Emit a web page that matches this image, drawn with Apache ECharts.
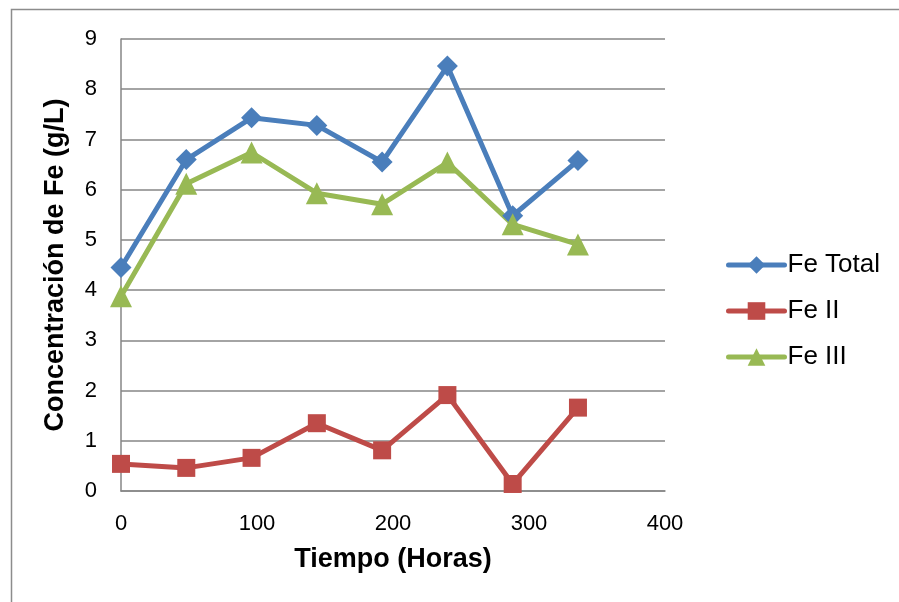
<!DOCTYPE html>
<html>
<head>
<meta charset="utf-8">
<script src="https://cdn.jsdelivr.net/npm/echarts@6/dist/echarts.min.js"></script>
<style>
  html, body { margin: 0; padding: 0; background: #fff; }
  #chart { width: 899px; height: 602px; }
</style>
</head>
<body>
<div id="chart"></div>
<script>
// Sampling times (hours)
const horas = [0, 48, 96, 144, 192, 240, 288, 336];
// Iron concentrations (g/L)
const feTotal = [4.45, 6.60, 7.43, 7.28, 6.55, 8.46, 5.48, 6.58];
const feII    = [0.54, 0.46, 0.66, 1.35, 0.81, 1.91, 0.14, 1.66];
const feIII   = [3.88, 6.12, 6.74, 5.93, 5.71, 6.54, 5.31, 4.91];
const seriesNames = ['Fe Total', 'Fe II', 'Fe III'];
const xTicks = [0, 100, 200, 300, 400];
const yTicks = [0, 1, 2, 3, 4, 5, 6, 7, 8, 9];

const font = 'Arial, "Liberation Sans", sans-serif';
const pair = (ys) => horas.map((h, i) => [h, ys[i]]);

function lineSeries(name, ys, color, symbol, size) {
  return {
    name: name,
    type: 'line',
    data: pair(ys),
    symbol: symbol,
    symbolSize: size,
    showAllSymbol: true,
    lineStyle: { color: color, width: 5 },
    itemStyle: { color: color },
    emphasis: { disabled: true },
    animation: false
  };
}

const chart = echarts.init(document.getElementById('chart'), null, { renderer: 'canvas' });
chart.setOption({
  backgroundColor: '#ffffff',
  animation: false,
  graphic: [{
    type: 'rect',
    shape: { x: 11.5, y: 9.5, width: 1000, height: 700 },
    style: { fill: 'none', stroke: '#8c8c8c', lineWidth: 1.5 },
    silent: true
  }],
  grid: { left: 121, right: 234, top: 39, bottom: 111, containLabel: false },
  legend: {
    orient: 'vertical',
    left: 726,
    top: 252,
    padding: 0,
    itemWidth: 56,
    itemHeight: 22,
    itemGap: 20,
    data: seriesNames,
    lineStyle: { width: 5, cap: 'round' },
    textStyle: { fontFamily: font, fontSize: 26, color: '#000', padding: [0, 0, 0, -2] }
  },
  xAxis: {
    type: 'value',
    min: xTicks[0],
    max: xTicks[xTicks.length - 1],
    interval: 100,
    name: 'Tiempo (Horas)',
    nameLocation: 'middle',
    nameGap: 55,
    nameTextStyle: { fontFamily: font, fontSize: 27, fontWeight: 'bold', color: '#000' },
    axisLine: { show: true, lineStyle: { color: '#868686', width: 1.5 } },
    axisTick: { show: false },
    axisLabel: { fontFamily: font, fontSize: 22, color: '#000', margin: 22 },
    splitLine: { show: false }
  },
  yAxis: {
    type: 'value',
    min: yTicks[0],
    max: yTicks[yTicks.length - 1],
    interval: 1,
    name: 'Concentración de Fe (g/L)',
    nameLocation: 'middle',
    nameRotate: 90,
    nameGap: 52,
    nameTextStyle: { fontFamily: font, fontSize: 27, fontWeight: 'bold', color: '#000' },
    axisLine: { show: true, lineStyle: { color: '#868686', width: 1.5 } },
    axisTick: { show: false },
    axisLabel: { fontFamily: font, fontSize: 22, color: '#000', margin: 24 },
    splitLine: { show: true, lineStyle: { color: '#868686', width: 1.5 } }
  },
  series: [
    lineSeries(seriesNames[0], feTotal, '#4A7EBB', 'diamond', 21),
    lineSeries(seriesNames[1], feII, '#BE4B48', 'rect', 18),
    lineSeries(seriesNames[2], feIII, '#98B954', 'triangle', 22)
  ]
});
</script>
</body>
</html>
